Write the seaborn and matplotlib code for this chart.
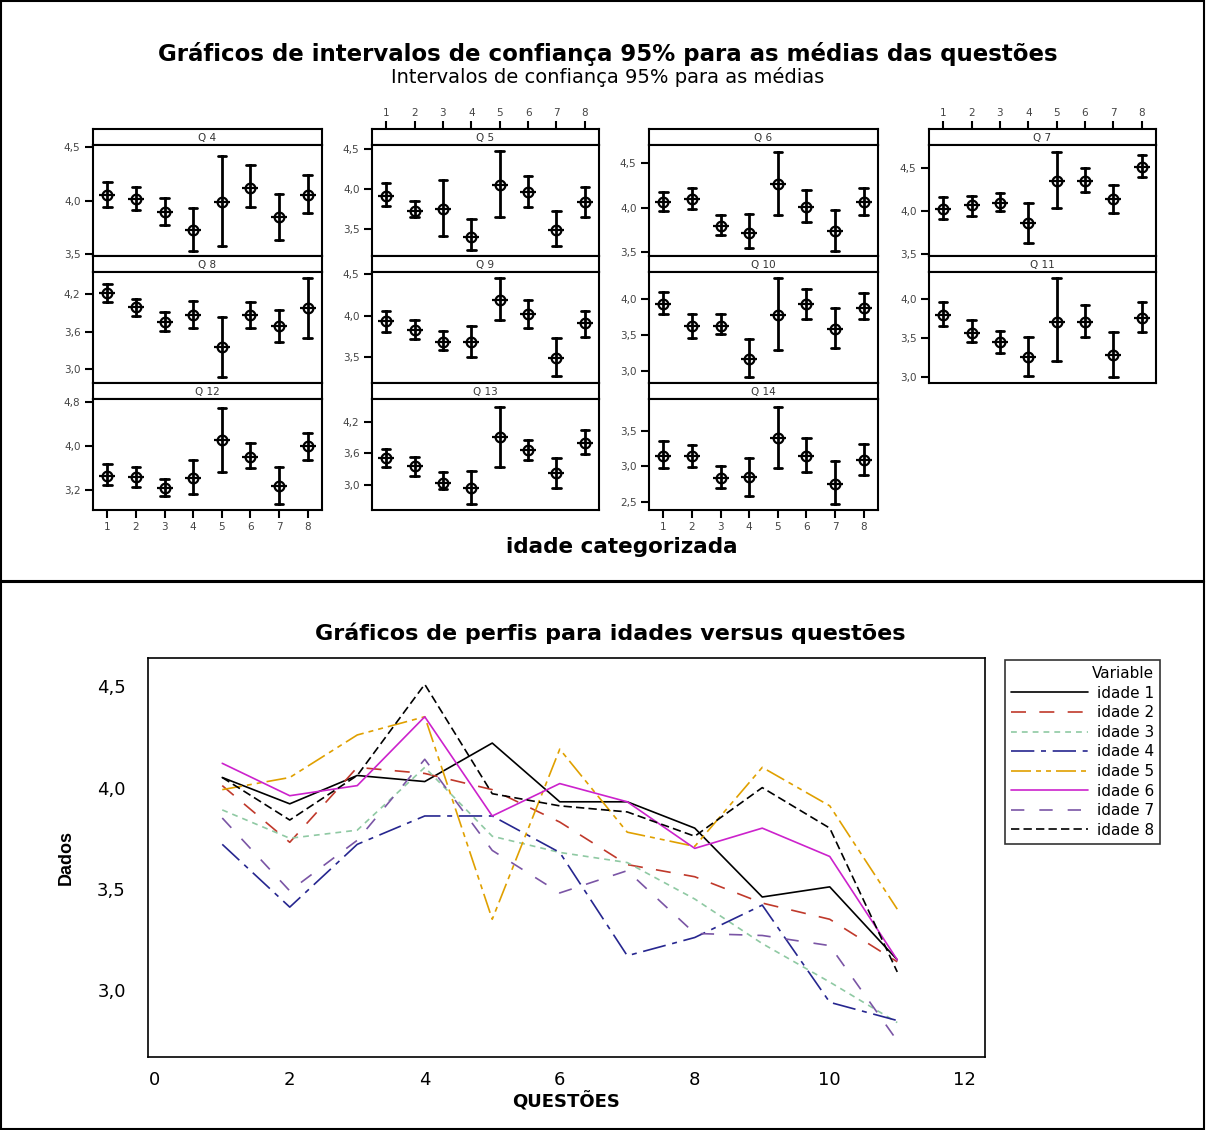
import numpy as np
import pandas as pd
import seaborn as sns
import matplotlib.pyplot as plt
from matplotlib.patches import Rectangle

# questões e idades (categorias)
questoes = ['Q4', 'Q5', 'Q6', 'Q7', 'Q8', 'Q9', 'Q10', 'Q11', 'Q12', 'Q13', 'Q14']
idades = ['1', '2', '3', '4', '5', '6', '7', '8']

# médias por questão (linhas) e idade (colunas)
media = [
    [4.05, 4.01, 3.89, 3.72, 3.99, 4.12, 3.85, 4.05],
    [3.92, 3.73, 3.75, 3.41, 4.05, 3.96, 3.49, 3.84],
    [4.06, 4.10, 3.79, 3.72, 4.26, 4.01, 3.74, 4.06],
    [4.03, 4.07, 4.10, 3.86, 4.35, 4.35, 4.14, 4.51],
    [4.22, 3.99, 3.76, 3.86, 3.35, 3.86, 3.69, 3.97],
    [3.93, 3.83, 3.68, 3.68, 4.19, 4.02, 3.48, 3.91],
    [3.93, 3.62, 3.63, 3.17, 3.78, 3.93, 3.59, 3.88],
    [3.80, 3.56, 3.45, 3.26, 3.71, 3.70, 3.28, 3.76],
    [3.46, 3.43, 3.23, 3.42, 4.10, 3.80, 3.27, 4.00],
    [3.51, 3.35, 3.04, 2.94, 3.91, 3.66, 3.22, 3.80],
    [3.15, 3.14, 2.84, 2.85, 3.40, 3.15, 2.75, 3.09],
]
# limite inferior do IC 95%
ic_inf = [
    [3.94, 3.91, 3.77, 3.53, 3.57, 3.94, 3.63, 3.88],
    [3.79, 3.65, 3.42, 3.25, 3.65, 3.78, 3.30, 3.65],
    [3.96, 3.99, 3.70, 3.55, 3.92, 3.84, 3.52, 3.92],
    [3.91, 3.94, 4.00, 3.63, 4.04, 4.22, 3.98, 4.40],
    [4.07, 3.85, 3.61, 3.66, 2.87, 3.65, 3.44, 3.49],
    [3.80, 3.71, 3.58, 3.50, 3.95, 3.85, 3.26, 3.74],
    [3.79, 3.46, 3.51, 2.91, 3.29, 3.73, 3.32, 3.73],
    [3.65, 3.45, 3.31, 3.02, 3.21, 3.51, 3.00, 3.58],
    [3.29, 3.26, 3.09, 3.13, 3.52, 3.60, 2.95, 3.75],
    [3.33, 3.17, 2.91, 2.62, 3.33, 3.48, 2.94, 3.58],
    [2.98, 2.99, 2.70, 2.59, 2.98, 2.92, 2.47, 2.88],
]
# limite superior do IC 95%
ic_sup = [
    [4.17, 4.13, 4.02, 3.93, 4.42, 4.33, 4.06, 4.24],
    [4.08, 3.85, 4.11, 3.63, 4.47, 4.17, 3.73, 4.03],
    [4.17, 4.22, 3.92, 3.93, 4.62, 4.20, 3.97, 4.22],
    [4.17, 4.18, 4.21, 4.10, 4.69, 4.50, 4.30, 4.65],
    [4.36, 4.12, 3.91, 4.08, 3.84, 4.07, 3.95, 4.46],
    [4.06, 3.95, 3.81, 3.87, 4.46, 4.19, 3.73, 4.06],
    [4.10, 3.79, 3.79, 3.45, 4.29, 4.14, 3.88, 4.08],
    [3.96, 3.73, 3.59, 3.51, 4.27, 3.92, 3.58, 3.96],
    [3.67, 3.62, 3.41, 3.74, 4.68, 4.05, 3.62, 4.23],
    [3.68, 3.53, 3.25, 3.27, 4.50, 3.85, 3.52, 4.05],
    [3.36, 3.30, 3.00, 3.12, 3.83, 3.39, 3.07, 3.31],
]

# escalas dos painéis (Minitab)
y_ticks = {
    'Q4': [3.5, 4.0, 4.5], 'Q5': [3.5, 4.0, 4.5], 'Q6': [3.5, 4.0, 4.5],
    'Q7': [3.5, 4.0, 4.5], 'Q8': [3.0, 3.6, 4.2], 'Q9': [3.5, 4.0, 4.5],
    'Q10': [3.0, 3.5, 4.0], 'Q11': [3.0, 3.5, 4.0], 'Q12': [3.2, 4.0, 4.8],
    'Q13': [3.0, 3.6, 4.2], 'Q14': [2.5, 3.0, 3.5],
}
y_lims = {
    'Q4': (3.48, 4.52), 'Q5': (3.17, 4.55), 'Q6': (3.46, 4.70),
    'Q7': (3.48, 4.77), 'Q8': (2.78, 4.55), 'Q9': (3.18, 4.53),
    'Q10': (2.83, 4.38), 'Q11': (2.93, 4.34), 'Q12': (2.84, 4.85),
    'Q13': (2.51, 4.65), 'Q14': (2.39, 3.94),
}

# tabela longa: cada grupo tem (inf, media, sup)
linhas = []
for i, q in enumerate(questoes):
    for j, id_ in enumerate(idades):
        for v in (ic_inf[i][j], media[i][j], ic_sup[i][j]):
            linhas.append({'questao': q, 'idade': id_, 'valor': v})
df_ic = pd.DataFrame(linhas)

perfis = pd.DataFrame([
    {'questao': i + 1, 'idade': 'idade ' + id_, 'media': media[i][j]}
    for i in range(len(questoes)) for j, id_ in enumerate(idades)
])

sns.set_style('white')
plt.rcParams['font.family'] = ['DejaVu Sans']
plt.rcParams['text.color'] = 'black'
plt.rcParams['axes.labelcolor'] = 'black'
plt.rcParams['xtick.color'] = 'black'
plt.rcParams['ytick.color'] = 'black'

W, H = 1206, 1130
fig = plt.figure(figsize=(W / 100, H / 100), dpi=100)


def px(x0, y0, x1, y1):
    return [x0 / W, 1 - y1 / H, (x1 - x0) / W, (y1 - y0) / H]


def virgula(vals):
    return [f'{v:.1f}'.replace('.', ',') for v in vals]


# moldura
fig.add_artist(Rectangle((1 / W, 1 - 581 / H), 1203 / W, 580 / H, transform=fig.transFigure,
                         fill=False, lw=1.5, ec='black'))
fig.add_artist(Rectangle((1 / W, 1 / H), 1203 / W, 547 / H, transform=fig.transFigure,
                         fill=False, lw=1.5, ec='black'))

fig.text(608 / W, 1 - 54 / H, 'Gráficos de intervalos de confiança 95% para as médias das questões',
         ha='center', va='center', fontsize=16.5, fontweight='bold')
fig.text(608 / W, 1 - 77 / H, 'Intervalos de confiança 95% para as médias',
         ha='center', va='center', fontsize=14)
fig.text(622 / W, 1 - 547 / H, 'idade categorizada', ha='center', va='center',
         fontsize=15.5, fontweight='bold')

col_x = [(93, 322), (372, 599), (649, 878), (929, 1156)]
row_top = [129, 256, 383]
grade = [['Q4', 'Q8', 'Q12'], ['Q5', 'Q9', 'Q13'], ['Q6', 'Q10', 'Q14'], ['Q7', 'Q11']]

for c, coluna in enumerate(grade):
    x0, x1 = col_x[c]
    for r, q in enumerate(coluna):
        t = row_top[r]
        ax_s = fig.add_axes(px(x0, t, x1, t + 16))
        ax = fig.add_axes(px(x0, t + 16, x1, t + 127))
        sub = df_ic[df_ic['questao'] == q]
        sns.pointplot(data=sub, x='idade', y='valor', order=idades, estimator='median',
                      errorbar=lambda v: (v.min(), v.max()), capsize=0.3,
                      err_kws={'linewidth': 2.0, 'color': 'black'},
                      color='black', marker='o', markersize=7, markerfacecolor='none',
                      markeredgewidth=1.6, linestyle='none', ax=ax)
        sns.pointplot(data=sub, x='idade', y='valor', order=idades, estimator='median',
                      errorbar=None, color='black', marker='_', markersize=11,
                      markeredgewidth=1.6, linestyle='none', ax=ax)
        ax.set_xlim(-0.5, 7.5)
        ax.set_ylim(*y_lims[q])
        ax.set_yticks(y_ticks[q])
        ax.set_yticklabels(virgula(y_ticks[q]))
        ax.set_xlabel('')
        ax.set_ylabel('')
        ax.set_xticks(range(8))
        ax.set_xticklabels(idades)
        ultimo = r == len(coluna) - 1
        mostra_baixo = ultimo and c in (0, 2)
        ax.tick_params(axis='x', bottom=mostra_baixo, labelbottom=mostra_baixo, direction='out',
                       length=6, width=1.5, labelsize=7.5, labelcolor='#444444', pad=3)
        ax.tick_params(axis='y', left=True, direction='out', length=6, width=1.5,
                       labelsize=7.5, labelcolor='#444444', pad=3)
        for sp in ax.spines.values():
            sp.set_linewidth(1.5)
            sp.set_color('black')

        ax_s.set_xlim(-0.5, 7.5)
        ax_s.set_ylim(0, 1)
        ax_s.set_yticks([])
        if r == 0 and c in (1, 3):
            ax_s.set_xticks(range(8))
            ax_s.set_xticklabels(idades)
            ax_s.xaxis.tick_top()
            ax_s.tick_params(axis='x', top=True, direction='out', length=6, width=1.5,
                             labelsize=7.5, labelcolor='#444444', pad=2)
        else:
            ax_s.set_xticks([])
        for sp in ax_s.spines.values():
            sp.set_linewidth(1.5)
            sp.set_color('black')
        ax_s.text(3.5, 0.42, q.replace('Q', 'Q '), ha='center', va='center', fontsize=7.5,
                  color='#333333')

# gráfico de perfis
cores = {
    'idade 1': '#000000', 'idade 2': '#c0392b', 'idade 3': '#8fc9a3', 'idade 4': '#26268f',
    'idade 5': '#e0a000', 'idade 6': '#cc22cc', 'idade 7': '#7a55a5', 'idade 8': '#000000',
}
tracos = {
    'idade 1': '', 'idade 2': (9, 8), 'idade 3': (3.5, 3), 'idade 4': (14, 4, 3, 4),
    'idade 5': (12, 3, 3, 3, 3, 3), 'idade 6': '', 'idade 7': (8, 9), 'idade 8': (5, 2.5),
}

fig.text(610 / W, 1 - 633 / H, 'Gráficos de perfis para idades versus questões',
         ha='center', va='center', fontsize=16, fontweight='bold')

ax2 = fig.add_axes(px(148, 658, 985, 1057))
sns.lineplot(data=perfis, x='questao', y='media', hue='idade', style='idade',
             palette=cores, dashes=tracos, linewidth=1.2, errorbar=None, ax=ax2)
ax2.set_xlim(-0.1, 12.3)
ax2.set_ylim(2.67, 4.64)
ax2.set_xticks(range(0, 13, 2))
ax2.set_yticks([3.0, 3.5, 4.0, 4.5])
ax2.set_yticklabels(virgula([3.0, 3.5, 4.0, 4.5]))
ax2.tick_params(axis='x', direction='out', length=6, width=1.2, labelsize=13, pad=4)
ax2.tick_params(axis='y', direction='out', length=6, width=1.2, labelsize=13, pad=10)
ax2.set_xlabel('QUESTÕES', fontsize=13, fontweight='bold', labelpad=2)
ax2.set_ylabel('Dados', fontsize=13, fontweight='bold', labelpad=16,
               family=['Liberation Sans', 'DejaVu Sans'])
for sp in ax2.spines.values():
    sp.set_linewidth(1.2)
    sp.set_color('black')

sns.move_legend(ax2, 'upper left', bbox_to_anchor=(1005 / W, 1 - 660 / H),
                bbox_transform=fig.transFigure, title='Variable', frameon=True,
                fancybox=False, edgecolor='black', fontsize=11, title_fontsize=11,
                handlelength=5.0, labelspacing=0.3, borderpad=0.4, borderaxespad=0,
                handletextpad=0.6, alignment='right')
leg = ax2.get_legend()
leg.get_frame().set_linewidth(1.2)

fig.savefig('out.png', dpi=100)
